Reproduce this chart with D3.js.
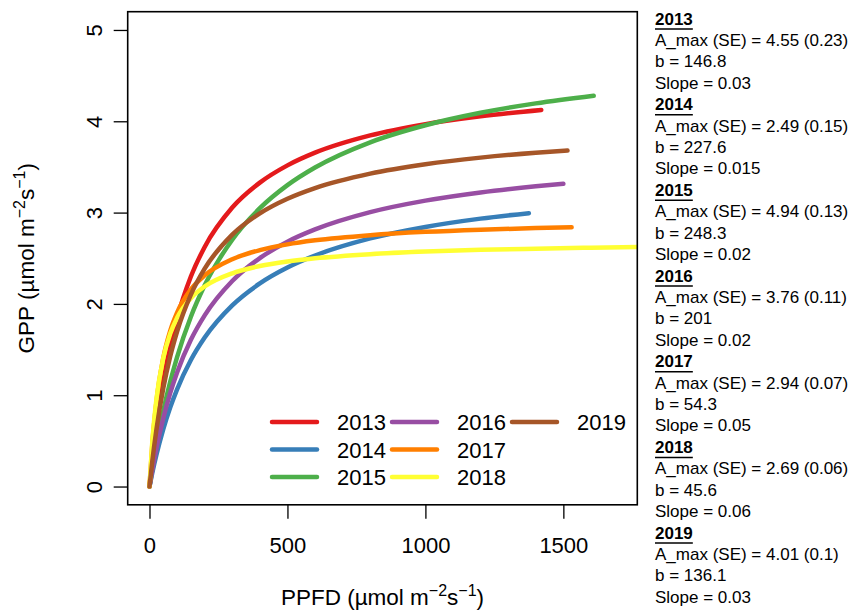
<!DOCTYPE html>
<html>
<head>
<meta charset="utf-8">
<script src="https://cdn.jsdelivr.net/npm/d3@7"></script>
<style>
  html, body { margin: 0; padding: 0; background: #fff; }
  svg { display: block; font-family: "Liberation Sans", Arial, Helvetica, sans-serif; }
</style>
</head>
<body>
<svg id="chart" width="861" height="610"></svg>
<script>
// Light-response curves of GPP against PPFD, one per year
const years = ["2013", "2014", "2015", "2016", "2017", "2018", "2019"];
const colors = ["#E41A1C", "#377EB8", "#4DAF4A", "#984EA3", "#FF7F00", "#FFFF33", "#A65628"];

const ppfd2013 = [0, 10, 25, 50, 75, 100, 150, 200, 300, 400, 500, 600, 800, 1000, 1200, 1420];
const gpp2013  = [0, 0.290, 0.662, 1.156, 1.539, 1.844, 2.300, 2.624, 3.055, 3.328, 3.517, 3.656, 3.845, 3.968, 4.054, 4.124];

const ppfd2014 = [0, 10, 25, 50, 75, 100, 150, 200, 300, 400, 500, 600, 800, 1000, 1200, 1375];
const gpp2014  = [0, 0.147, 0.345, 0.629, 0.865, 1.065, 1.386, 1.632, 1.984, 2.224, 2.398, 2.530, 2.717, 2.843, 2.934, 2.994];

const ppfd2015 = [0, 10, 25, 50, 75, 100, 150, 200, 300, 400, 500, 600, 800, 1000, 1200, 1400, 1610];
const gpp2015  = [0, 0.191, 0.452, 0.828, 1.146, 1.418, 1.860, 2.204, 2.703, 3.048, 3.301, 3.494, 3.770, 3.957, 4.093, 4.196, 4.280];

const ppfd2016 = [0, 10, 25, 50, 75, 100, 150, 200, 300, 400, 500, 600, 800, 1000, 1200, 1400, 1500];
const gpp2016  = [0, 0.178, 0.416, 0.749, 1.022, 1.249, 1.607, 1.875, 2.251, 2.502, 2.682, 2.816, 3.005, 3.131, 3.221, 3.288, 3.316];

const ppfd2017 = [0, 10, 25, 50, 75, 100, 150, 200, 300, 400, 500, 600, 800, 1000, 1200, 1400, 1530];
const gpp2017  = [0, 0.457, 0.927, 1.409, 1.705, 1.905, 2.159, 2.312, 2.489, 2.589, 2.652, 2.696, 2.753, 2.789, 2.813, 2.830, 2.839];

const ppfd2018 = [0, 10, 25, 50, 75, 100, 150, 200, 300, 400, 500, 600, 800, 1000, 1200, 1400, 1600, 1800];
const gpp2018  = [0, 0.484, 0.953, 1.407, 1.673, 1.848, 2.063, 2.191, 2.335, 2.415, 2.465, 2.500, 2.545, 2.573, 2.592, 2.605, 2.615, 2.624];

const ppfd2019 = [0, 10, 25, 50, 75, 100, 150, 200, 300, 400, 500, 600, 800, 1000, 1200, 1400, 1515];
const gpp2019  = [0, 0.274, 0.622, 1.077, 1.425, 1.698, 2.102, 2.386, 2.759, 2.992, 3.152, 3.269, 3.427, 3.530, 3.602, 3.655, 3.679];

const ppfdSeries = [ppfd2013, ppfd2014, ppfd2015, ppfd2016, ppfd2017, ppfd2018, ppfd2019];
const gppSeries  = [gpp2013, gpp2014, gpp2015, gpp2016, gpp2017, gpp2018, gpp2019];

// Fit summaries printed beside the plot
const aMax   = ["4.55", "2.49", "4.94", "3.76", "2.94", "2.69", "4.01"];
const aMaxSE = ["0.23", "0.15", "0.13", "0.11", "0.07", "0.06", "0.1"];
const bVals  = ["146.8", "227.6", "248.3", "201", "54.3", "45.6", "136.1"];
const slopes = ["0.03", "0.015", "0.02", "0.02", "0.05", "0.06", "0.03"];

const xTicks = [0, 500, 1000, 1500];
const yTicks = [0, 1, 2, 3, 4, 5];

const svg = d3.select("#chart");
const box = { left: 127.7, right: 637.3, top: 11.7, bottom: 504.8 };

const x = d3.scaleLinear().domain([-79, 1768]).range([box.left, box.right]);
const y = d3.scaleLinear().domain([-0.2, 5.2]).range([box.bottom, box.top]);

svg.append("defs").append("clipPath").attr("id", "plotClip")
  .append("rect")
  .attr("x", box.left).attr("y", box.top)
  .attr("width", box.right - box.left).attr("height", box.bottom - box.top);

// Curves
const line = d3.line()
  .x(d => x(d[0]))
  .y(d => y(d[1]))
  .curve(d3.curveMonotoneX);

const curves = svg.append("g").attr("clip-path", "url(#plotClip)");
years.forEach((yr, i) => {
  const pts = ppfdSeries[i].map((p, j) => [p, gppSeries[i][j]]);
  curves.append("path")
    .attr("d", line(pts))
    .attr("fill", "none")
    .attr("stroke", colors[i])
    .attr("stroke-width", 4.5)
    .attr("stroke-linecap", "round")
    .attr("stroke-linejoin", "round");
});

// Plot frame
svg.append("rect")
  .attr("x", box.left).attr("y", box.top)
  .attr("width", box.right - box.left).attr("height", box.bottom - box.top)
  .attr("fill", "none").attr("stroke", "#000").attr("stroke-width", 1.6);

// Axes
const xAxis = d3.axisBottom(x).tickValues(xTicks).tickSize(14).tickPadding(19).tickFormat(d3.format("d"));
const gx = svg.append("g").attr("transform", `translate(0,${box.bottom})`).call(xAxis);
gx.select(".domain").remove();
gx.selectAll(".tick line").attr("stroke", "#000").attr("stroke-width", 1.3);
gx.selectAll(".tick text").attr("font-size", 22).attr("fill", "#000")
  .attr("font-family", "'Liberation Sans', Arial, sans-serif");

const yAxis = d3.axisLeft(y).tickValues(yTicks).tickSize(14).tickFormat(d3.format("d"));
const gy = svg.append("g").attr("transform", `translate(${box.left},0)`).call(yAxis);
gy.select(".domain").remove();
gy.selectAll(".tick line").attr("stroke", "#000").attr("stroke-width", 1.3);
gy.selectAll(".tick text")
  .attr("font-size", 22).attr("fill", "#000")
  .attr("font-family", "'Liberation Sans', Arial, sans-serif")
  .attr("x", null).attr("dy", null)
  .attr("text-anchor", "middle")
  .attr("transform", "translate(-34,0) rotate(-90) translate(0,8)");

// Axis titles with superscripts
function unitTitle(g, lead) {
  const t = g.append("text").attr("font-size", 22.5).attr("fill", "#000").attr("text-anchor", "middle");
  t.append("tspan").text(lead + " (\u00B5mol m");
  t.append("tspan").attr("dy", -9).attr("font-size", 16).text("\u22122");
  t.append("tspan").attr("dy", 9).text("s");
  t.append("tspan").attr("dy", -9).attr("font-size", 16).text("\u22121");
  t.append("tspan").attr("dy", 9).text(")");
  return t;
}
unitTitle(svg.append("g").attr("transform", `translate(${(box.left + box.right) / 2},605)`), "PPFD");
unitTitle(svg.append("g").attr("transform", `translate(34,${(box.top + box.bottom) / 2}) rotate(-90)`), "GPP");

// Legend (three columns, filled column by column)
const legendCols = [272, 392, 512];
const legendRows = [422, 449.5, 477];
const legend = svg.append("g");
years.forEach((yr, i) => {
  const c = Math.floor(i / 3), r = i % 3;
  const lx = legendCols[c], ly = legendRows[r];
  legend.append("line")
    .attr("x1", lx).attr("x2", lx + 45)
    .attr("y1", ly).attr("y2", ly)
    .attr("stroke", colors[i]).attr("stroke-width", 4.5).attr("stroke-linecap", "round");
  legend.append("text")
    .attr("x", lx + 65).attr("y", ly + 8)
    .attr("font-size", 22).attr("fill", "#000")
    .text(yr);
});

// Fit summaries
const panel = svg.append("g");
const lineGap = 21.42, firstBase = 24.5, px = 655;
years.forEach((yr, i) => {
  const base = firstBase + i * 4 * lineGap;
  const head = panel.append("text")
    .attr("x", px).attr("y", base)
    .attr("font-size", 17).attr("font-weight", "bold").attr("fill", "#000")
    .text(yr);
  const w = head.node().getComputedTextLength();
  panel.append("line")
    .attr("x1", px).attr("x2", px + w)
    .attr("y1", base + 4.5).attr("y2", base + 4.5)
    .attr("stroke", "#000").attr("stroke-width", 1.5);
  const rows = [
    `A_max (SE) = ${aMax[i]} (${aMaxSE[i]})`,
    `b = ${bVals[i]}`,
    `Slope = ${slopes[i]}`
  ];
  rows.forEach((txt, k) => {
    panel.append("text")
      .attr("x", px).attr("y", base + (k + 1) * lineGap)
      .attr("font-size", 17).attr("fill", "#000")
      .text(txt);
  });
});
</script>
</body>
</html>
